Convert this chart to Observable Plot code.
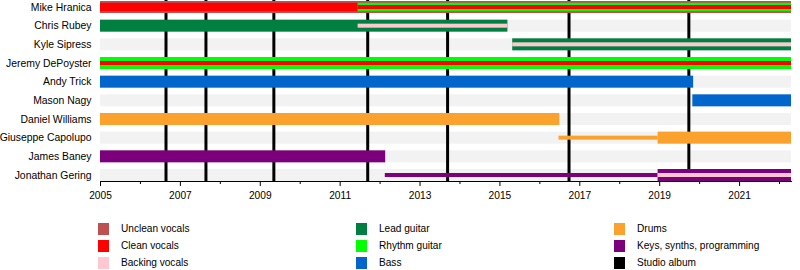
<!DOCTYPE html>
<html><head><meta charset="utf-8">
<script src="https://cdn.jsdelivr.net/npm/d3@7"></script>
<script src="https://cdn.jsdelivr.net/npm/@observablehq/plot@0.6"></script>
<style>
body{margin:0;background:#fff;font-family:"Liberation Sans",Arial,sans-serif;}
#wrap{position:relative;width:800px;height:270px;overflow:hidden}
#legend .item{position:absolute;font-size:10.1px;color:#000;line-height:12px;height:12px;white-space:nowrap}
#legend .sw{position:absolute;width:11px;height:12px}
</style></head><body><div id="wrap"><div id="chart"></div><div id="legend"></div></div>
<script>
const members = ["Mike Hranica","Chris Rubey","Kyle Sipress","Jeremy DePoyster","Andy Trick","Mason Nagy","Daniel Williams","Giuseppe Capolupo","James Baney","Jonathan Gering"];
const startYear = 2005;
const endYear = 2022.3;
const albums = [2006.64, 2007.64, 2009.34, 2011.69, 2013.69, 2016.73, 2019.73];
const roles = ["Unclean vocals","Clean vocals","Backing vocals","Lead guitar","Rhythm guitar","Bass","Drums","Keys, synths, programming","Studio album"];
const roleColors = ["#bf5050","#ff0000","#ffc8d0","#008040","#00ff00","#0066cc","#faa12e","#7c007c","#000000"];
// [member, role, start, end]
const fullBars = [
  ["Mike Hranica","Unclean vocals",2005,endYear],
  ["Chris Rubey","Lead guitar",2005,2015.2],
  ["Kyle Sipress","Lead guitar",2015.32,endYear],
  ["Jeremy DePoyster","Rhythm guitar",2005,endYear],
  ["Andy Trick","Bass",2005,2019.85],
  ["Mason Nagy","Bass",2019.83,endYear],
  ["Daniel Williams","Drums",2005,2016.5],
  ["Giuseppe Capolupo","Drums",2018.96,endYear],
  ["James Baney","Keys, synths, programming",2005,2012.14],
  ["Jonathan Gering","Keys, synths, programming",2018.96,endYear]
];
const midBars = [
  ["Mike Hranica","Clean vocals",2005,2011.45],
  ["Mike Hranica","Rhythm guitar",2011.45,endYear]
];
const innerBars = [
  ["Mike Hranica","Clean vocals",2011.45,endYear],
  ["Chris Rubey","Backing vocals",2011.45,2015.2],
  ["Kyle Sipress","Backing vocals",2015.32,endYear],
  ["Jeremy DePoyster","Clean vocals",2005,endYear],
  ["Giuseppe Capolupo","Drums",2016.48,2018.96],
  ["Jonathan Gering","Keys, synths, programming",2012.13,2018.96],
  ["Jonathan Gering","Backing vocals",2018.96,endYear]
];
const labeledYears = [2005,2007,2009,2011,2013,2015,2017,2019,2021];
const minorYears = [2006,2008,2010,2012,2014,2016,2018,2020,2022];

const rec = a => ({member:a[0], role:a[1], start:a[2], end:a[3]});
const bg = members.map(m => ({member:m, start:startYear, end:endYear}));
const font = '"Liberation Sans", Arial, sans-serif';

const chart = Plot.plot({
  width: 800, height: 210,
  marginLeft: 100, marginRight: 9, marginTop: 1, marginBottom: 29,
  style: {fontFamily: font, fontSize: "10.4px", color: "#000", background: "#fff"},
  x: {domain: [startYear, endYear], label: null},
  y: {domain: members, paddingInner: 0.357, paddingOuter: 0, align: 0, round: false, label: null},
  color: {domain: roles, range: roleColors},
  marks: [
    Plot.barX(bg, {y: "member", x1: "start", x2: "end", fill: "#f2f2f2"}),
    Plot.ruleX(albums, {x: d => d, stroke: "#000", strokeWidth: 3, insetTop: -1}),
    Plot.barX(fullBars.map(rec), {y: "member", x1: "start", x2: "end", fill: "role"}),
    Plot.barX(midBars.map(rec), {y: "member", x1: "start", x2: "end", fill: "role", insetTop: 1.8, insetBottom: 1.8}),
    Plot.barX(innerBars.map(rec), {y: "member", x1: "start", x2: "end", fill: "role", insetTop: 4, insetBottom: 4}),
    Plot.frame({anchor: "bottom", stroke: "#000"}),
    Plot.axisX(labeledYears, {tickSize: 5, tickPadding: 5, tickFormat: d => String(d), fontSize: 10.2, stroke: "#000", fill: "#000", label: null}),
    Plot.axisX(minorYears, {tickSize: 3, tickFormat: () => "", stroke: "#000", label: null}),
    Plot.axisY({tickSize: 0, tickPadding: 9, fontSize: 10.4, fill: "#000", label: null})
  ]
});
document.getElementById("chart").appendChild(chart);

// legend
const legend = document.getElementById("legend");
const colX = [98, 356, 614];
const rowY = [223, 240, 257];
roles.forEach((r, i) => {
  const c = Math.floor(i / 3), row = i % 3;
  const sw = document.createElement("div");
  sw.className = "sw";
  sw.style.left = colX[c] + "px"; sw.style.top = rowY[row] + "px";
  sw.style.background = roleColors[i];
  legend.appendChild(sw);
  const t = document.createElement("div");
  t.className = "item";
  t.style.left = (colX[c] + 23) + "px"; t.style.top = rowY[row] + "px";
  t.textContent = r;
  legend.appendChild(t);
});
</script></body></html>
